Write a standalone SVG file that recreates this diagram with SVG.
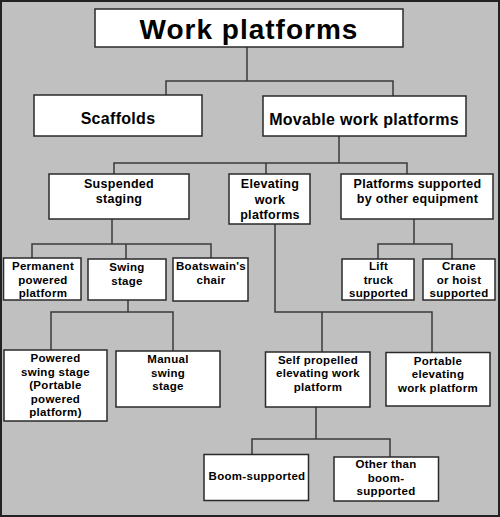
<svg xmlns="http://www.w3.org/2000/svg" width="500" height="517" viewBox="0 0 500 517">
<style>
.box{fill:#fff;stroke:#2a2a2a;stroke-width:1.5}
.ln{fill:none;stroke:#3a3a3a;stroke-width:1.5}
text{font-family:"Liberation Sans",Arial,sans-serif;font-weight:bold;fill:#000;text-anchor:middle}
.t1{font-size:28px;letter-spacing:1px}
.t2{font-size:16px;letter-spacing:0.3px}
.t3{font-size:12.5px;letter-spacing:0.3px}
.t4{font-size:11.5px;letter-spacing:0.3px}
</style>
<rect x="1" y="1" width="498" height="515" fill="#c0c0c0" stroke="#222" stroke-width="2"/>
<g id="connectors">
<path class="ln" d="M247,47V81M166,95V81H393V96"/>
<path class="ln" d="M339,136V163M114,174V163H407V174M266,163V174"/>
<path class="ln" d="M112,219V244M32,258V244H211V258M126,244V259"/>
<path class="ln" d="M414,219V244M378,259V244H452V259"/>
<path class="ln" d="M275,224V312H432V352M322,312V352"/>
<path class="ln" d="M128,300V312M51,350V312H173V351"/>
<path class="ln" d="M316,407V439M252,454V439H390V457"/>
</g>
<g id="n-work"><rect class="box" x="95" y="9" width="308" height="38"/><text class="t1" x="249" y="38.5">Work platforms</text></g>
<g id="n-scaffolds"><rect class="box" x="34" y="95" width="168" height="41"/><text class="t2" x="118" y="124">Scaffolds</text></g>
<g id="n-movable"><rect class="box" x="263" y="96" width="203" height="40"/><text class="t2" x="364" y="125">Movable work platforms</text></g>
<g id="n-suspended"><rect class="box" x="49" y="174" width="140" height="45"/><text class="t3" x="119" y="188">Suspended</text><text class="t3" x="119" y="203">staging</text></g>
<g id="n-elevating"><rect class="box" x="229" y="174" width="81" height="50"/><text class="t3" x="270" y="188">Elevating</text><text class="t3" x="270" y="203.5">work</text><text class="t3" x="270" y="219">platforms</text></g>
<g id="n-other-eq"><rect class="box" x="341" y="174" width="152" height="45"/><text class="t3" x="417.5" y="188">Platforms supported</text><text class="t3" x="417.5" y="203">by other equipment</text></g>
<g id="n-permanent"><rect class="box" x="3.5" y="258" width="77.5" height="42"/><text class="t4" x="43" y="270">Permanent</text><text class="t4" x="43" y="284">powered</text><text class="t4" x="43" y="297">platform</text></g>
<g id="n-swing"><rect class="box" x="88" y="259" width="78" height="41"/><text class="t4" x="127" y="271">Swing</text><text class="t4" x="127" y="284.5">stage</text></g>
<g id="n-boatswain"><rect class="box" x="173" y="258" width="75" height="43"/><text class="t4" x="211" y="270">Boatswain's</text><text class="t4" x="211" y="283.5">chair</text></g>
<g id="n-lift"><rect class="box" x="342" y="259" width="72" height="41"/><text class="t4" x="378.5" y="270">Lift</text><text class="t4" x="378.5" y="283.5">truck</text><text class="t4" x="378.5" y="297">supported</text></g>
<g id="n-crane"><rect class="box" x="423" y="259" width="72" height="41"/><text class="t4" x="459" y="270">Crane</text><text class="t4" x="459" y="283.5">or hoist</text><text class="t4" x="459" y="297">supported</text></g>
<g id="n-powered-swing"><rect class="box" x="4" y="350" width="103" height="71"/><text class="t4" x="55.5" y="362">Powered</text><text class="t4" x="55.5" y="375.5">swing stage</text><text class="t4" x="55.5" y="389">(Portable</text><text class="t4" x="55.5" y="402.5">powered</text><text class="t4" x="55.5" y="416">platform)</text></g>
<g id="n-manual-swing"><rect class="box" x="116" y="351" width="104" height="56"/><text class="t4" x="168" y="363">Manual</text><text class="t4" x="168" y="376.5">swing</text><text class="t4" x="168" y="390">stage</text></g>
<g id="n-self"><rect class="box" x="265.5" y="352" width="104.5" height="55"/><text class="t4" x="318" y="363.5">Self propelled</text><text class="t4" x="318" y="377">elevating work</text><text class="t4" x="318" y="391">platform</text></g>
<g id="n-portable"><rect class="box" x="386" y="352.5" width="104" height="53.5"/><text class="t4" x="438" y="364.5">Portable</text><text class="t4" x="438" y="378">elevating</text><text class="t4" x="438" y="392">work platform</text></g>
<g id="n-boom"><rect class="box" x="204" y="454.5" width="104.5" height="46"/><text class="t4" x="257" y="479.5">Boom-supported</text></g>
<g id="n-other-boom"><rect class="box" x="334" y="457" width="104.5" height="44"/><text class="t4" x="386" y="468">Other than</text><text class="t4" x="386" y="482">boom-</text><text class="t4" x="386" y="495">supported</text></g>
</svg>
